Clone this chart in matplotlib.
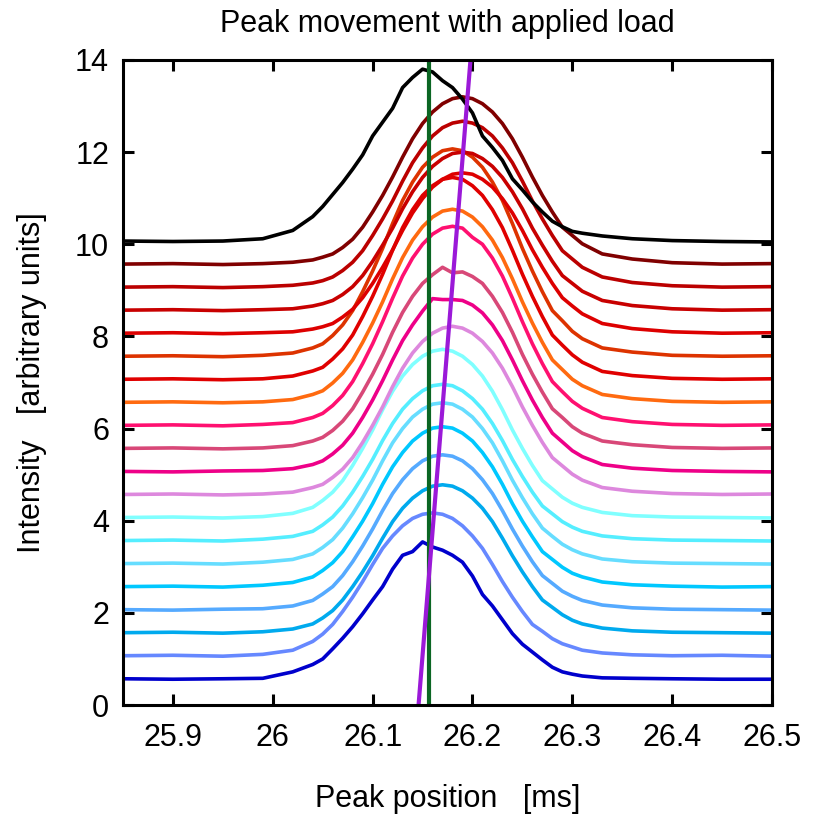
import matplotlib
matplotlib.use('Agg')
import matplotlib.pyplot as plt

plt.rcParams['font.family'] = ['Liberation Sans', 'DejaVu Sans']

# sample positions along the time axis [ms]
peak_pos = [25.85, 25.90, 25.95, 25.99, 26.02,
            26.04, 26.05, 26.06, 26.07, 26.08, 26.09, 26.10, 26.11, 26.12,
            26.13, 26.14, 26.15, 26.16, 26.17, 26.18, 26.19, 26.20, 26.21,
            26.22, 26.23, 26.24, 26.25, 26.26, 26.27, 26.28, 26.29, 26.30,
            26.31, 26.33, 26.36, 26.40, 26.45, 26.50]

# one trace per load step, bottom to top (vertically offset)
load_00 = [0.57, 0.56, 0.57, 0.58, 0.72,
           0.88, 1.00, 1.22, 1.45, 1.70, 1.98, 2.28, 2.57, 2.95,
           3.25, 3.33, 3.54, 3.43, 3.36, 3.25, 3.10, 2.80, 2.40,
           2.15, 1.85, 1.55, 1.32, 1.15, 0.98, 0.82, 0.72, 0.67,
           0.63, 0.59, 0.58, 0.57, 0.56, 0.56]
load_01 = [1.07, 1.08, 1.06, 1.10, 1.19,
           1.38, 1.54, 1.75, 2.03, 2.34, 2.68, 3.05, 3.40, 3.67,
           3.89, 4.05, 4.14, 4.17, 4.14, 4.05, 3.89, 3.67, 3.40,
           3.05, 2.68, 2.34, 2.03, 1.75, 1.60, 1.44, 1.33, 1.26,
           1.19, 1.13, 1.09, 1.07, 1.08, 1.06]
load_02 = [1.57, 1.58, 1.56, 1.59, 1.65,
           1.76, 1.89, 2.05, 2.28, 2.57, 2.89, 3.24, 3.62, 3.98,
           4.27, 4.49, 4.65, 4.75, 4.78, 4.75, 4.65, 4.49, 4.27,
           3.98, 3.62, 3.24, 2.89, 2.57, 2.28, 2.12, 1.96, 1.84,
           1.76, 1.67, 1.61, 1.58, 1.57, 1.56]
load_03 = [2.07, 2.06, 2.08, 2.09, 2.15,
           2.27, 2.41, 2.57, 2.81, 3.11, 3.45, 3.82, 4.22, 4.59,
           4.89, 5.13, 5.30, 5.40, 5.43, 5.40, 5.30, 5.13, 4.89,
           4.59, 4.22, 3.82, 3.45, 3.11, 2.81, 2.64, 2.47, 2.36,
           2.27, 2.17, 2.11, 2.08, 2.07, 2.06]
load_04 = [2.57, 2.58, 2.56, 2.60, 2.66,
           2.78, 2.92, 3.09, 3.33, 3.65, 3.99, 4.37, 4.79, 5.17,
           5.48, 5.73, 5.90, 6.01, 6.04, 6.01, 5.90, 5.73, 5.48,
           5.17, 4.79, 4.37, 3.99, 3.65, 3.33, 3.16, 2.99, 2.86,
           2.78, 2.67, 2.61, 2.58, 2.56, 2.57]
load_05 = [3.07, 3.08, 3.06, 3.10, 3.16,
           3.28, 3.42, 3.59, 3.84, 4.15, 4.50, 4.88, 5.30, 5.69,
           6.00, 6.25, 6.42, 6.53, 6.56, 6.53, 6.42, 6.25, 6.00,
           5.69, 5.30, 4.88, 4.50, 4.15, 3.84, 3.66, 3.49, 3.37,
           3.28, 3.17, 3.11, 3.08, 3.07, 3.06]
load_06 = [3.57, 3.58, 3.56, 3.60, 3.66,
           3.77, 3.91, 4.08, 4.32, 4.62, 4.96, 5.33, 5.74, 6.11,
           6.42, 6.65, 6.82, 6.93, 6.96, 6.93, 6.82, 6.65, 6.42,
           6.11, 5.74, 5.33, 4.96, 4.62, 4.32, 4.15, 3.98, 3.86,
           3.77, 3.67, 3.61, 3.58, 3.57, 3.56]
load_07 = [4.07, 4.08, 4.06, 4.09, 4.16,
           4.29, 4.44, 4.62, 4.87, 5.20, 5.57, 5.97, 6.41, 6.81,
           7.14, 7.39, 7.57, 7.68, 7.72, 7.68, 7.57, 7.39, 7.14,
           6.81, 6.41, 5.97, 5.57, 5.20, 4.87, 4.69, 4.51, 4.38,
           4.29, 4.18, 4.11, 4.08, 4.07, 4.06]
load_08 = [4.57, 4.58, 4.56, 4.58, 4.62,
           4.72, 4.79, 4.94, 5.12, 5.37, 5.70, 6.07, 6.47, 6.91,
           7.31, 7.64, 7.89, 8.07, 8.18, 8.22, 8.18, 8.07, 7.89,
           7.64, 7.31, 6.91, 6.47, 6.07, 5.70, 5.37, 5.19, 5.01,
           4.88, 4.72, 4.64, 4.59, 4.57, 4.58]
load_09 = [5.07, 5.06, 5.08, 5.09, 5.13,
           5.22, 5.30, 5.45, 5.64, 5.90, 6.24, 6.62, 7.04, 7.49,
           7.91, 8.25, 8.55, 8.82, 8.80, 8.80, 8.78, 8.68, 8.51,
           8.25, 7.91, 7.49, 7.04, 6.62, 6.24, 5.90, 5.71, 5.52,
           5.39, 5.22, 5.14, 5.09, 5.07, 5.06]
load_10 = [5.57, 5.58, 5.56, 5.58, 5.63,
           5.73, 5.81, 5.96, 6.16, 6.43, 6.79, 7.18, 7.61, 8.09,
           8.52, 8.87, 9.15, 9.34, 9.50, 9.38, 9.40, 9.30, 9.15,
           8.87, 8.52, 8.09, 7.61, 7.18, 6.79, 6.43, 6.24, 6.04,
           5.90, 5.73, 5.65, 5.59, 5.57, 5.58]
load_11 = [6.07, 6.08, 6.06, 6.09, 6.13,
           6.24, 6.33, 6.50, 6.72, 7.02, 7.41, 7.84, 8.32, 8.83,
           9.31, 9.70, 10.00, 10.22, 10.35, 10.39, 10.35, 10.15, 10.00,
           9.70, 9.31, 8.83, 8.32, 7.84, 7.41, 7.02, 6.80, 6.59,
           6.44, 6.24, 6.15, 6.09, 6.07, 6.08]
load_12 = [6.57, 6.58, 6.56, 6.58, 6.63,
           6.74, 6.82, 6.99, 7.20, 7.49, 7.87, 8.29, 8.75, 9.25,
           9.71, 10.09, 10.38, 10.59, 10.72, 10.76, 10.72, 10.59, 10.38,
           10.09, 9.71, 9.25, 8.75, 8.29, 7.87, 7.49, 7.28, 7.07,
           6.93, 6.74, 6.65, 6.59, 6.57, 6.58]
load_13 = [7.07, 7.08, 7.06, 7.08, 7.14,
           7.25, 7.33, 7.51, 7.73, 8.03, 8.43, 8.87, 9.35, 9.87,
           10.36, 10.75, 11.06, 11.27, 11.41, 11.45, 11.41, 11.27, 11.06,
           10.75, 10.36, 9.87, 9.35, 8.87, 8.43, 8.03, 7.81, 7.60,
           7.44, 7.24, 7.15, 7.09, 7.07, 7.08]
load_14 = [7.57, 7.58, 7.56, 7.59, 7.64,
           7.75, 7.84, 8.02, 8.25, 8.56, 8.97, 9.42, 9.91, 10.45,
           10.95, 11.35, 11.67, 11.89, 12.03, 12.07, 12.03, 11.89, 11.67,
           11.35, 10.95, 10.45, 9.91, 9.42, 8.97, 8.56, 8.34, 8.11,
           7.95, 7.75, 7.66, 7.59, 7.57, 7.58]
load_15 = [8.07, 8.08, 8.06, 8.08, 8.10,
           8.16, 8.21, 8.28, 8.42, 8.59, 8.84, 9.15, 9.50, 9.88,
           10.30, 10.68, 10.99, 11.24, 11.41, 11.52, 11.55, 11.52, 11.41,
           11.24, 10.99, 10.68, 10.30, 9.88, 9.50, 9.15, 8.84, 8.66,
           8.49, 8.28, 8.17, 8.10, 8.07, 8.08]
load_16 = [8.57, 8.58, 8.56, 8.58, 8.60,
           8.66, 8.71, 8.78, 8.91, 9.08, 9.32, 9.63, 9.98, 10.35,
           10.77, 11.14, 11.45, 11.69, 11.86, 11.97, 12.00, 11.97, 11.86,
           11.69, 11.45, 11.14, 10.77, 10.35, 9.98, 9.63, 9.32, 9.15,
           8.98, 8.78, 8.67, 8.60, 8.57, 8.58]
load_17 = [9.07, 9.08, 9.06, 9.08, 9.11,
           9.16, 9.21, 9.29, 9.43, 9.61, 9.86, 10.19, 10.55, 10.94,
           11.37, 11.77, 12.09, 12.35, 12.53, 12.63, 12.67, 12.63, 12.53,
           12.35, 12.09, 11.77, 11.37, 10.94, 10.55, 10.19, 9.86, 9.68,
           9.50, 9.29, 9.17, 9.10, 9.07, 9.08]
load_18 = [9.57, 9.58, 9.56, 9.58, 9.61,
           9.66, 9.72, 9.79, 9.93, 10.11, 10.37, 10.70, 11.06, 11.46,
           11.89, 12.29, 12.62, 12.87, 13.05, 13.16, 13.20, 13.16, 13.05,
           12.87, 12.62, 12.29, 11.89, 11.46, 11.06, 10.70, 10.37, 10.19,
           10.01, 9.79, 9.68, 9.60, 9.57, 9.58]
reference = [10.07, 10.06, 10.07, 10.12, 10.30,
             10.60, 10.82, 11.08, 11.34, 11.63, 11.94, 12.35, 12.65, 12.95,
             13.40, 13.62, 13.80, 13.74, 13.55, 13.40, 13.15, 12.85, 12.35,
             12.10, 11.82, 11.42, 11.18, 10.92, 10.70, 10.50, 10.38, 10.28,
             10.24, 10.18, 10.12, 10.08, 10.06, 10.05]

traces = [load_00, load_01, load_02, load_03, load_04, load_05, load_06,
          load_07, load_08, load_09, load_10, load_11, load_12, load_13,
          load_14, load_15, load_16, load_17, load_18, reference]
colors = ['#0000cc', '#6688ff', '#00aaee', '#55aaff', '#00c8ff', '#66ddff',
          '#55eeff', '#80ffff', '#dd88dd', '#ee0088', '#d84878', '#ff1070',
          '#ff6a10', '#e00000', '#dd3300', '#dd0000', '#c80000', '#bb0000',
          '#800000', '#000000']

# unloaded peak position and fitted peak drift
unloaded_x = 26.156
drift_x = [26.146, 26.198]
drift_y = [0, 14]

fig = plt.figure(figsize=(8.13, 8.18), dpi=100)
ax = fig.add_axes([0.1513, 0.1381, 0.7983, 0.7886])

for y, c in zip(traces, colors):
    ax.plot(peak_pos, y, '-', color=c, linewidth=2.6)

ax.axvline(unloaded_x, color='#0b6623', linewidth=3.0)
ax.plot(drift_x, drift_y, '-', color='#9b19d8', linewidth=3.0)

ax.set_xlim(25.85, 26.5)
ax.set_ylim(0, 14)
ax.set_xticks([25.9, 26.0, 26.1, 26.2, 26.3, 26.4, 26.5])
ax.set_xticklabels(['25.9', '26', '26.1', '26.2', '26.3', '26.4', '26.5'])
ax.set_yticks(range(0, 15, 2))

for s in ax.spines.values():
    s.set_linewidth(2.2)
ax.tick_params(direction='in', length=8, width=2.2, top=True, right=True,
               labelsize=22)
ax.tick_params(axis='x', pad=13)
ax.tick_params(axis='y', pad=10)

ax.set_title('Peak movement with applied load', fontsize=22, pad=20)
ax.set_xlabel('Peak position   [ms]', fontsize=22, labelpad=22)
ax.set_ylabel('Intensity   [arbitrary units]', fontsize=22, labelpad=20)

fig.savefig('out.png', dpi=100)
